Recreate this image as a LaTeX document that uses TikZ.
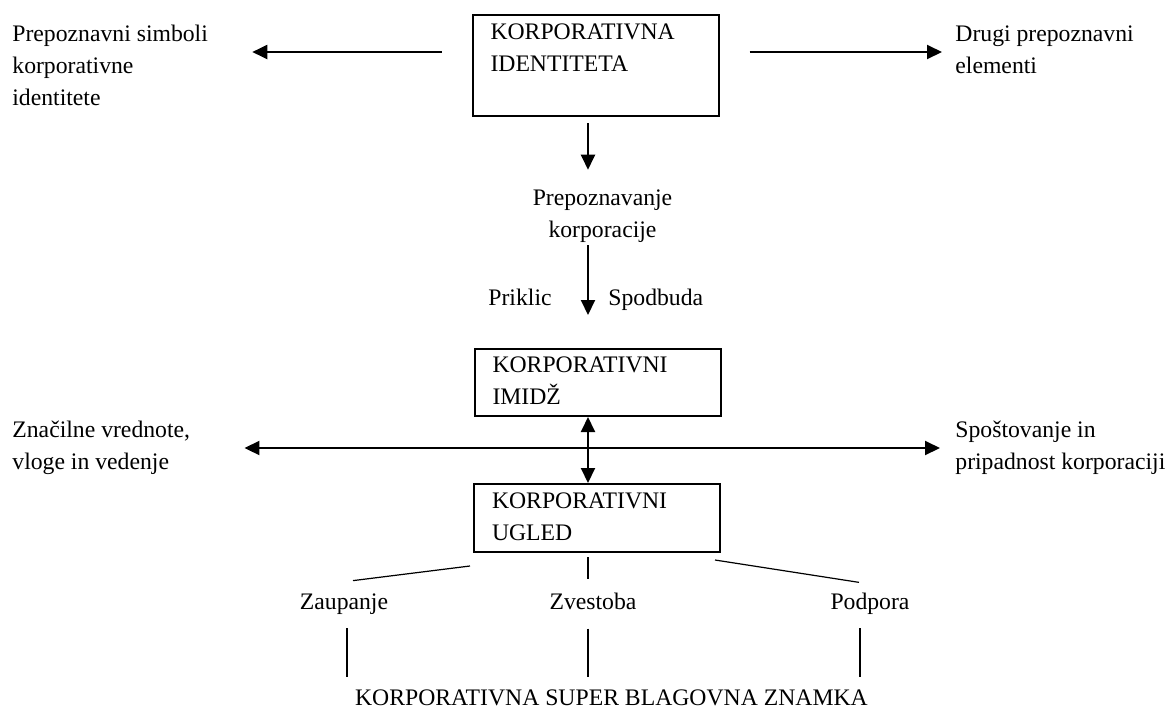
\documentclass[tikz,border=0pt]{standalone}
\usepackage{fontspec}
\setmainfont{Liberation Serif}
\usetikzlibrary{positioning,calc,arrows.meta}

\newcommand{\diafont}{\fontsize{11.85pt}{16pt}\selectfont}

\begin{document}
\begin{tikzpicture}[x=0.5pt, y=-0.5pt,
    box/.style={rectangle, draw, line width=1pt, text width=105pt, inner xsep=9pt, inner ysep=0.5pt, align=left, font=\diafont},
    txt/.style={inner sep=0pt, align=left, font=\diafont},
    arrow/.style={-{Triangle[length=7.5pt,width=7pt]}, line width=1pt},
    darrow/.style={{Triangle[length=7.5pt,width=7pt]}-{Triangle[length=7.5pt,width=7pt]}, line width=1pt},
    link/.style={line width=0.6pt}
]
\useasboundingbox (0,0) rectangle (1169,708);

% Boxes
\node[box, minimum height=50.5pt] (ident) at (595.5,65.5) {\strut KORPORATIVNA\\\strut IDENTITETA\\\strut};
\node[box, minimum height=33.5pt] (imidz) at (597.5,382.5) {\strut KORPORATIVNI\\\strut IMIDŽ};
\node[box, minimum height=34pt] (ugled) at (597,518) {\strut KORPORATIVNI\\\strut UGLED};

% Texts
\node[txt, anchor=west] (simb) at (12,65) {Prepoznavni simboli\\korporativne\\identitete};
\node[txt, anchor=west] (drugi) at (955,49.5) {Drugi prepoznavni\\elementi};
\node[txt, align=center] (prep) at (602.5,216.5) {Prepoznavanje\\korporacije};
\node[txt, anchor=base east] (priklic) at (552,305) {Priklic};
\node[txt, anchor=base west] (spodbuda) at (608,305) {Spodbuda};
\node[txt, anchor=west] (znac) at (12,448) {Značilne vrednote,\\vloge in vedenje};
\node[txt, anchor=west] (spos) at (955,448) {Spoštovanje in\\pripadnost korporaciji};
\node[txt, anchor=base] (zaup) at (344,609) {Zaupanje};
\node[txt, anchor=base] (zvest) at (593,609) {Zvestoba};
\node[txt, anchor=base] (podp) at (870,609) {Podpora};
\node[txt, anchor=base] (super) at (611.5,705) {KORPORATIVNA SUPER BLAGOVNA ZNAMKA};

\coordinate (axis) at (588,0);

% Arrows
\draw[arrow, shorten <=15pt, shorten >=22pt] ([yshift=6.75pt]ident.west) -- ([yshift=6.5pt]simb.east);
\draw[arrow, shorten <=15pt, shorten >=6.5pt] ([yshift=6.75pt]ident.east) -- ([yshift=6.75pt]ident.east -| drugi.west);
\draw[arrow, shorten <=3pt, shorten >=10pt] (ident.south -| axis) -- (prep.north -| axis);
\draw[arrow, shorten <=1pt, shorten >=16.5pt] (prep.south -| axis) -- (imidz.north -| axis);
\draw[darrow] (imidz.south -| axis) -- (ugled.north -| axis);
\draw[darrow, shorten <=27pt, shorten >=7.5pt] (znac.east) -- (znac.east -| spos.west);

% Lines to the brand
\draw[link] ([xshift=-1.5pt,yshift=-6.5pt]ugled.south west) -- ([xshift=4.5pt,yshift=6.15pt]zaup.north);
\draw[link, shorten <=2pt, shorten >=6.4pt] (ugled.south -| axis) -- (zvest.north -| axis);
\draw[link] ([xshift=-3pt,yshift=-3.5pt]ugled.south east) -- ([xshift=-5.5pt,yshift=4.9pt]podp.north);
\draw[link, shorten <=7pt, shorten >=6pt] ([xshift=1.5pt]zaup.south) -- ([xshift=1.5pt]zaup.south |- super.north);
\draw[link, shorten <=9.5pt, shorten >=6pt] (zvest.south -| axis) -- (super.north -| axis);
\draw[link, shorten <=7pt, shorten >=6pt] ([xshift=-5pt]podp.south) -- ([xshift=-5pt]podp.south |- super.north);

\end{tikzpicture}
\end{document}
